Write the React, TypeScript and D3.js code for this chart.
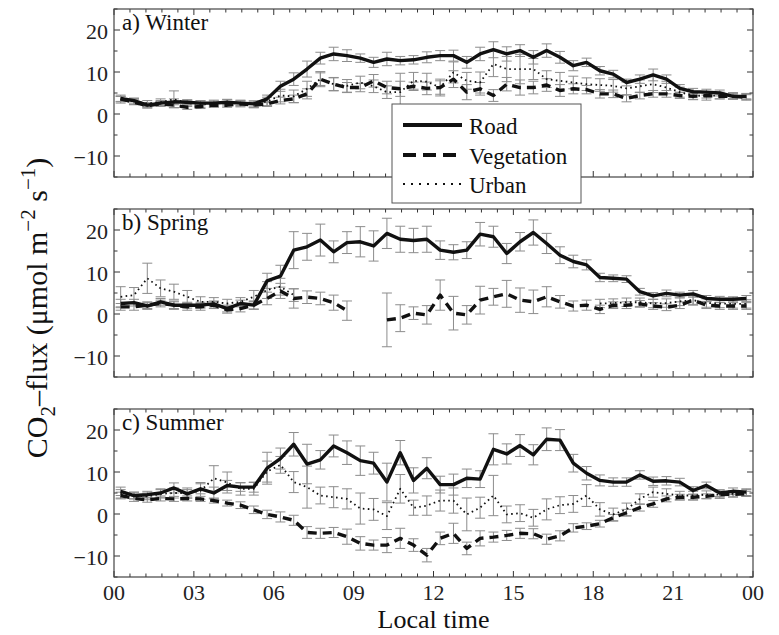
import * as d3 from "d3";

// half-hourly means, centred on hh:15 and hh:45
const hours = d3.range(48).map((i) => 0.25 + 0.5 * i);
const xTickLabels = ["00", "03", "06", "09", "12", "15", "18", "21", "00"];
const yTickLabels = [-10, 0, 10, 20];
const seriesNames = ["Road", "Vegetation", "Urban"];
const panelTitles = ["a) Winter", "b) Spring", "c) Summer"];

const winterRoad = [3.7, 3.2, 2.1, 2.6, 2.9, 2.8, 2.6, 2.6, 2.8, 2.6, 2.4, 3.6, 6.6, 8.3, 10.7, 13.3, 14.3, 13.9, 13.3, 12.3, 13.1, 12.7, 12.9, 13.5, 13.9, 13.9, 12.3, 14.3, 15.3, 14.3, 15.1, 13.5, 15.1, 13.5, 11.5, 12.3, 10.3, 9.5, 7.5, 8.3, 9.3, 8.3, 6.1, 5.3, 5.2, 5.0, 4.2, 4.2];
const winterVeg = [3.6, 2.8, 2.0, 2.4, 2.1, 1.6, 1.8, 2.1, 2.1, 2.4, 2.1, 2.4, 3.2, 3.6, 4.8, 8.3, 7.1, 6.3, 6.3, 7.9, 6.3, 6.0, 6.6, 6.1, 6.3, 8.3, 5.2, 6.0, 4.4, 7.1, 6.3, 6.3, 6.9, 5.6, 6.0, 5.8, 4.8, 4.8, 3.7, 4.4, 4.8, 4.8, 4.4, 4.2, 4.4, 4.2, 4.2, 4.0];
const winterUrban = [3.4, 3.0, 2.5, 2.8, 3.5, 2.6, 2.4, 2.5, 2.7, 2.5, 2.3, 3.0, 4.4, 4.2, 6.0, 8.3, 7.1, 6.7, 7.5, 6.6, 5.2, 5.2, 7.9, 7.7, 6.3, 9.9, 7.9, 7.5, 11.9, 10.7, 10.7, 10.7, 8.3, 7.9, 7.5, 7.1, 6.9, 6.7, 6.1, 6.6, 7.1, 6.3, 5.2, 4.4, 4.3, 4.4, 4.3, 4.1];
const winterRoadErr = [0.8, 0.6, 0.6, 0.6, 0.7, 0.5, 0.5, 0.5, 0.6, 0.6, 0.7, 0.9, 1.2, 1.5, 1.9, 1.4, 1.6, 1.4, 1.0, 1.2, 1.6, 1.0, 1.0, 1.3, 1.2, 1.3, 1.4, 1.6, 1.9, 1.7, 1.4, 1.6, 1.6, 1.4, 1.2, 1.0, 1.0, 0.9, 0.8, 1.0, 1.4, 1.0, 0.9, 0.8, 0.7, 0.7, 0.6, 0.6];
const winterVegErr = [0.6, 0.6, 0.6, 0.6, 0.6, 0.5, 0.5, 0.5, 0.5, 0.5, 0.6, 0.6, 0.8, 0.9, 1.2, 1.8, 1.6, 1.2, 1.0, 1.5, 1.5, 1.8, 1.0, 1.5, 1.6, 2.0, 1.8, 1.5, 1.4, 1.6, 1.8, 1.5, 1.5, 1.4, 1.2, 1.0, 1.0, 0.9, 0.8, 0.8, 0.8, 0.8, 0.7, 0.7, 0.6, 0.6, 0.6, 0.6];
const winterUrbanErr = [0.8, 0.7, 0.7, 0.8, 2.0, 0.8, 0.8, 0.8, 0.8, 0.8, 0.8, 1.0, 1.5, 1.5, 1.8, 1.5, 1.5, 1.5, 1.5, 1.5, 1.5, 4.5, 2.0, 2.0, 2.0, 2.5, 2.0, 2.5, 3.0, 3.0, 3.5, 2.5, 2.0, 2.0, 1.5, 1.5, 1.5, 1.5, 1.5, 1.5, 2.0, 1.5, 1.2, 1.0, 1.0, 0.8, 0.8, 0.8];

const springRoad = [2.5, 2.7, 1.9, 2.9, 2.1, 2.1, 2.1, 2.4, 1.3, 2.5, 2.1, 7.9, 9.0, 15.2, 16.0, 17.6, 14.8, 17.0, 17.2, 16.2, 19.2, 17.8, 17.5, 17.8, 15.2, 14.7, 15.2, 19.0, 18.4, 14.4, 17.2, 19.4, 16.8, 14.0, 12.5, 11.7, 8.7, 8.5, 8.3, 5.3, 4.3, 4.9, 4.5, 4.8, 3.7, 3.5, 3.5, 3.7];
const springVeg = [1.7, 1.7, 2.1, 2.5, 2.1, 1.7, 1.7, 2.1, 1.0, 1.3, 2.1, 3.7, 5.5, 3.7, 4.0, 3.7, 2.7, 0.8, null, null, -1.4, -1.0, 0.2, -0.2, 4.5, 0.2, -0.2, 3.3, 4.1, 4.8, 3.3, 2.9, 4.1, 2.9, 1.9, 2.1, 1.1, 2.1, 2.1, 2.4, 1.9, 1.6, 2.1, 3.3, 2.1, 1.9, 1.9, 1.9];
const springUrban = [4.1, 4.5, 8.5, 6.1, 5.3, 4.1, 2.9, 2.9, 2.5, 2.9, 4.1, 5.7, 6.5, 4.5, null, null, null, null, null, null, null, null, null, null, null, null, null, null, null, null, null, null, null, null, null, null, 2.5, 2.6, 2.8, 2.8, 2.5, 2.6, 3.0, 3.3, 2.6, 2.5, 2.4, 2.4];
const springRoadErr = [1.0, 0.8, 0.8, 0.8, 0.8, 0.7, 0.7, 0.7, 0.8, 0.8, 0.9, 1.8, 2.6, 4.4, 3.2, 3.8, 2.6, 2.6, 3.6, 3.6, 3.6, 3.1, 2.9, 3.1, 2.2, 1.8, 2.0, 2.8, 2.5, 2.4, 2.2, 3.0, 2.4, 2.0, 1.5, 1.2, 1.0, 0.8, 0.8, 0.8, 0.8, 0.8, 0.7, 0.8, 0.7, 0.7, 0.6, 0.7];
const springVegErr = [0.8, 0.8, 0.8, 0.8, 1.0, 0.8, 0.8, 0.8, 0.8, 0.8, 1.0, 1.5, 1.8, 2.3, 1.5, 1.5, 1.8, 2.3, 3.3, 2.0, 6.4, 3.2, 1.5, 2.2, 3.6, 4.0, 2.2, 3.3, 2.0, 3.2, 2.9, 2.8, 2.4, 1.5, 1.2, 1.2, 1.0, 0.8, 0.8, 0.8, 0.8, 0.8, 0.8, 1.0, 0.8, 0.8, 0.8, 0.8];
const springUrbanErr = [2.4, 1.8, 3.6, 2.0, 1.8, 1.5, 1.2, 1.0, 1.0, 1.0, 1.5, 2.0, 2.0, 1.5, null, null, null, null, null, null, null, null, null, null, null, null, null, null, null, null, null, null, null, null, null, null, 1.0, 1.0, 1.0, 1.0, 1.0, 1.0, 1.0, 1.2, 1.0, 1.0, 1.0, 1.0];

const summerRoad = [5.4, 4.4, 4.6, 5.0, 6.2, 4.8, 6.0, 5.0, 6.8, 6.4, 6.4, 10.9, 13.2, 16.6, 11.9, 12.9, 16.2, 14.6, 12.7, 12.1, 7.6, 14.6, 8.0, 10.9, 7.0, 7.0, 8.5, 8.3, 15.4, 14.3, 16.3, 14.1, 17.8, 17.6, 12.1, 9.7, 8.0, 7.6, 7.6, 9.3, 7.8, 7.9, 7.6, 5.6, 6.8, 5.0, 5.4, 5.2];
const summerVeg = [4.4, 3.7, 3.4, 3.7, 3.6, 3.7, 3.6, 3.2, 2.6, 2.1, 1.0, -0.1, -0.7, -1.5, -4.4, -4.6, -4.4, -5.4, -7.0, -7.4, -7.4, -5.8, -7.4, -9.8, -5.8, -4.6, -8.2, -5.8, -5.5, -5.1, -4.6, -4.7, -6.0, -5.2, -3.3, -2.9, -2.3, -0.9, 0.3, 1.5, 2.4, 3.6, 4.0, 4.0, 4.2, 4.6, 4.7, 4.8];
const summerUrban = [4.8, 4.4, 4.2, 4.8, 5.0, 5.0, 5.5, 8.5, 7.5, 6.0, 6.0, 10.1, 11.7, 7.6, 6.4, 4.4, 4.0, 3.6, 1.3, 1.1, -0.5, 6.0, 1.5, 2.0, 3.2, 3.2, -0.1, 1.5, 4.4, -0.1, 0.2, -0.9, 1.1, 2.1, 2.4, 4.4, 1.1, -0.1, 1.1, 3.6, 5.2, 4.8, 4.4, 4.4, 4.6, 4.6, 4.8, 5.0];
const summerRoadErr = [1.0, 0.8, 0.8, 1.0, 1.2, 1.0, 1.2, 1.4, 1.2, 1.0, 1.2, 3.8, 2.5, 2.8, 4.7, 2.2, 2.6, 2.8, 3.5, 2.6, 4.5, 2.9, 3.0, 2.5, 2.0, 2.5, 2.2, 2.0, 3.7, 2.4, 2.6, 2.4, 2.7, 2.5, 2.1, 1.6, 1.3, 1.0, 1.0, 1.0, 1.0, 1.0, 0.9, 0.9, 0.8, 0.8, 0.8, 0.8];
const summerVegErr = [0.8, 0.7, 0.6, 0.6, 0.6, 0.6, 0.6, 0.6, 0.7, 0.8, 0.9, 1.0, 1.2, 1.2, 1.4, 1.2, 1.2, 1.8, 1.6, 1.2, 1.8, 2.4, 1.5, 1.6, 1.5, 2.4, 1.5, 1.8, 1.2, 1.2, 1.2, 1.2, 1.2, 1.2, 1.0, 0.8, 0.8, 0.8, 0.8, 0.8, 0.8, 0.7, 0.7, 0.7, 0.6, 0.6, 0.6, 0.6];
const summerUrbanErr = [1.0, 0.8, 0.8, 1.0, 1.2, 1.2, 2.0, 3.0, 2.5, 1.5, 1.5, 2.5, 2.0, 2.5, 5.0, 2.0, 2.5, 2.4, 3.7, 2.6, 3.2, 3.4, 1.8, 2.3, 2.5, 3.0, 3.9, 2.5, 4.8, 2.0, 2.0, 2.0, 2.5, 2.0, 2.0, 2.6, 1.6, 1.5, 1.5, 1.2, 1.2, 1.2, 1.0, 1.0, 0.9, 0.9, 0.8, 0.8];

type Val = number | null;

const panels: { values: Val[][]; errors: Val[][] }[] = [
  { values: [winterRoad, winterVeg, winterUrban], errors: [winterRoadErr, winterVegErr, winterUrbanErr] },
  { values: [springRoad, springVeg, springUrban], errors: [springRoadErr, springVegErr, springUrbanErr] },
  { values: [summerRoad, summerVeg, summerUrban], errors: [summerRoadErr, summerVegErr, summerUrbanErr] },
];

const FONT = "'Liberation Serif', 'DejaVu Serif', serif";
const LEFT = 114;
const RIGHT = 753;
const PANEL_TOPS = [9, 209, 409];
const PANEL_H = 168;
const CAP = 5;

const lineStyles = [
  { width: 3.4, dash: undefined as string | undefined },
  { width: 3.4, dash: "9 6" },
  { width: 1.8, dash: "1.6 3.4" },
];

function Panel({ top, index }: { top: number; index: number }) {
  const x = d3.scaleLinear().domain([0, 24]).range([LEFT, RIGHT]);
  const y = d3.scaleLinear().domain([-15, 25]).range([top + PANEL_H, top]);
  const { values, errors } = panels[index];

  const line = d3
    .line<Val>()
    .defined((d) => d !== null)
    .x((_, i) => x(hours[i]))
    .y((d) => y(d as number));

  const xTicks = d3.range(0, 24.001, 0.6);
  const yTicks = d3.range(-15, 25.001, 5);

  return (
    <g>
      <defs>
        <clipPath id={`clip${index}`}>
          <rect x={LEFT} y={top} width={RIGHT - LEFT} height={PANEL_H} />
        </clipPath>
      </defs>
      <g clipPath={`url(#clip${index})`}>
        {errors.map((errs, s) =>
          errs.map((e, i) => {
            const v = values[s][i];
            if (v === null || e === null) return null;
            const cx = x(hours[i]);
            const y1 = y(v - e);
            const y2 = y(v + e);
            return (
              <g key={`e${s}-${i}`} stroke="#8c8c8c" strokeWidth={1}>
                <line x1={cx} x2={cx} y1={y1} y2={y2} />
                <line x1={cx - CAP} x2={cx + CAP} y1={y1} y2={y1} />
                <line x1={cx - CAP} x2={cx + CAP} y1={y2} y2={y2} />
              </g>
            );
          })
        )}
        {values.map((vals, s) => (
          <path
            key={`l${s}`}
            d={line(vals) ?? ""}
            fill="none"
            stroke="#111"
            strokeWidth={lineStyles[s].width}
            strokeDasharray={lineStyles[s].dash}
            strokeLinejoin="round"
          />
        ))}
      </g>
      {/* ticks, inward on all four sides */}
      {xTicks.map((t, i) => {
        const major = i % 5 === 0;
        const len = major ? 6 : 3.5;
        return (
          <g key={`xt${i}`} stroke="#333" strokeWidth={1}>
            <line x1={x(t)} x2={x(t)} y1={top + PANEL_H} y2={top + PANEL_H - len} />
            <line x1={x(t)} x2={x(t)} y1={top} y2={top + len} />
          </g>
        );
      })}
      {yTicks.map((v) => {
        const major = v % 10 === 0;
        const len = major ? 6 : 3.5;
        return (
          <g key={`yt${v}`} stroke="#333" strokeWidth={1}>
            <line x1={LEFT} x2={LEFT + len} y1={y(v)} y2={y(v)} />
            <line x1={RIGHT} x2={RIGHT - len} y1={y(v)} y2={y(v)} />
          </g>
        );
      })}
      <rect x={LEFT} y={top} width={RIGHT - LEFT} height={PANEL_H} fill="none" stroke="#444" strokeWidth={1.2} />
      {yTickLabels.map((v) => (
        <text key={`yl${v}`} x={LEFT - 6} y={y(v) + 1} textAnchor="end" dominantBaseline="central" fontSize={22} fontFamily={FONT} fill="#222">
          {v < 0 ? `\u2212${Math.abs(v)}` : v}
        </text>
      ))}
      <text x={LEFT + 8} y={top + 21} fontSize={23} fontFamily={FONT} fill="#111">
        {panelTitles[index]}
      </text>
      {index === 2 &&
        xTickLabels.map((lab, i) => (
          <text key={`xl${i}`} x={x(i * 3)} y={top + PANEL_H + 23} textAnchor="middle" fontSize={22} fontFamily={FONT} fill="#222">
            {lab}
          </text>
        ))}
    </g>
  );
}

function Legend() {
  const lx = 392;
  const ly = 104;
  const w = 189;
  const h = 99;
  const rows = [125, 155, 184];
  return (
    <g>
      <rect x={lx} y={ly} width={w} height={h} fill="#fff" stroke="#555" strokeWidth={1} />
      {seriesNames.map((name, s) => (
        <g key={name}>
          <line
            x1={lx + 11}
            x2={lx + 70}
            y1={rows[s]}
            y2={rows[s]}
            stroke="#111"
            strokeWidth={s === 2 ? 2 : 3.8}
            strokeDasharray={s === 1 ? "13 7" : s === 2 ? "2 6" : undefined}
          />
          <text x={lx + 77} y={rows[s] + 1} dominantBaseline="central" fontSize={23} fontFamily={FONT} fill="#111">
            {name}
          </text>
        </g>
      ))}
    </g>
  );
}

export default function App() {
  return (
    <svg width={779} height={635} style={{ position: "absolute", left: 0, top: 0, background: "#fff" }}>
      {PANEL_TOPS.map((top, i) => (
        <Panel key={i} top={top} index={i} />
      ))}
      <Legend />
      <text
        transform={`translate(47, 308) rotate(-90)`}
        textAnchor="middle"
        fontSize={30}
        fontFamily={FONT}
        fill="#111"
      >
        CO<tspan dy={8} fontSize={21}>2</tspan>
        <tspan dy={-8}>{"\u2013flux (\u03bcmol m"}</tspan>
        <tspan dy={-12} fontSize={21}>{"\u22122"}</tspan>
        <tspan dy={12}>{" s"}</tspan>
        <tspan dy={-12} fontSize={21}>{"\u22121"}</tspan>
        <tspan dy={12}>)</tspan>
      </text>
      <text x={(LEFT + RIGHT) / 2} y={628} textAnchor="middle" fontSize={26} fontFamily={FONT} fill="#111">
        Local time
      </text>
    </svg>
  );
}
